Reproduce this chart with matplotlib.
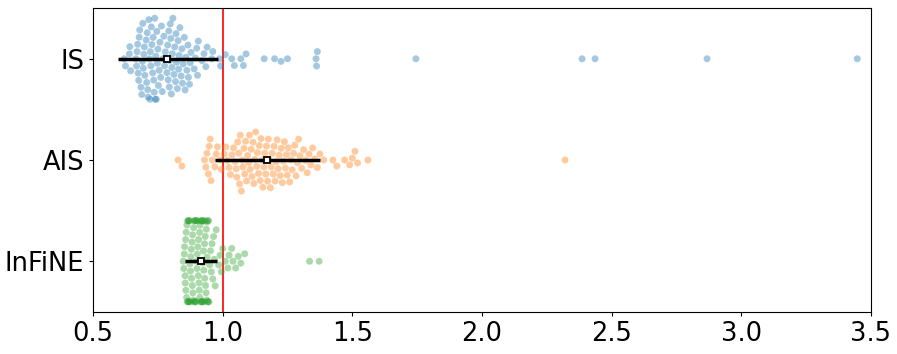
import numpy as np
import pandas as pd
import matplotlib
matplotlib.use("Agg")
import matplotlib.pyplot as plt
import seaborn as sns

# groups (top to bottom)
groups = ["IS", "AIS", "InFiNE"]

is_vals = [0.62, 0.625,
           0.64, 0.642, 0.645,
           0.665, 0.668, 0.67, 0.672, 0.674, 0.676, 0.678, 0.68,
           0.685, 0.688, 0.69, 0.692, 0.694, 0.696, 0.698, 0.70,
           0.705, 0.707, 0.709, 0.711, 0.713, 0.715, 0.717, 0.719, 0.721, 0.723, 0.725, 0.727,
           0.73, 0.732, 0.734, 0.736, 0.738, 0.74, 0.742, 0.744, 0.746, 0.748, 0.75, 0.752,
           0.755, 0.758, 0.761, 0.764, 0.767, 0.770, 0.773, 0.776, 0.779,
           0.785, 0.788, 0.79, 0.792, 0.794, 0.796, 0.798, 0.80, 0.802, 0.804, 0.806, 0.808,
           0.812, 0.815, 0.818, 0.82, 0.822, 0.825, 0.828, 0.83, 0.832, 0.835,
           0.84, 0.843, 0.845, 0.848, 0.852, 0.855, 0.858, 0.862,
           0.866, 0.868, 0.872, 0.875, 0.878,
           0.89, 0.895, 0.90, 0.903, 0.906,
           0.92, 0.928, 0.935, 0.94,
           0.958, 0.962,
           0.988, 0.992,
           1.01, 1.035, 1.045, 1.07, 1.08, 1.09, 1.16, 1.20, 1.225, 1.25,
           1.36, 1.362, 1.365,
           1.745, 2.386, 2.436, 2.868, 3.447]

ais_vals = [0.828, 0.843,
            0.93, 0.935, 0.94, 0.945, 0.948, 0.952, 0.955, 0.96,
            0.97, 0.975, 0.98, 0.99, 0.995,
            1.005, 1.012, 1.018, 1.024, 1.03, 1.036, 1.042, 1.048,
            1.052, 1.055, 1.058, 1.062, 1.065, 1.068, 1.072, 1.075, 1.078, 1.082, 1.085, 1.088, 1.092, 1.096,
            1.10, 1.103, 1.106, 1.11, 1.113, 1.117, 1.12, 1.124, 1.127, 1.131, 1.134, 1.138, 1.141, 1.145, 1.148,
            1.152, 1.155, 1.159, 1.162, 1.166, 1.169, 1.173, 1.176, 1.18, 1.184, 1.187, 1.191, 1.195, 1.198,
            1.202, 1.206, 1.21, 1.214, 1.218, 1.222, 1.226, 1.23, 1.234, 1.238, 1.242, 1.246, 1.249,
            1.253, 1.258, 1.263, 1.268, 1.273, 1.278, 1.283, 1.288, 1.293, 1.298,
            1.305, 1.312, 1.319, 1.326, 1.333, 1.34, 1.347,
            1.355, 1.365, 1.375, 1.39,
            1.425, 1.44, 1.47, 1.49, 1.50, 1.51, 1.52, 1.56, 2.32]

infine_vals = [0.848, 0.85, 0.852, 0.853, 0.855, 0.856, 0.858, 0.859, 0.861, 0.862,
               0.864, 0.865, 0.867, 0.868, 0.87, 0.871, 0.873, 0.874, 0.876, 0.877,
               0.879, 0.88, 0.882, 0.883, 0.885, 0.886, 0.888, 0.889, 0.891, 0.892,
               0.894, 0.895, 0.897, 0.898, 0.90, 0.901, 0.903, 0.904, 0.906, 0.907,
               0.909, 0.91, 0.912, 0.913, 0.915, 0.916, 0.918, 0.919, 0.921, 0.922,
               0.924, 0.925, 0.927, 0.928, 0.93, 0.931, 0.933, 0.934, 0.936, 0.937,
               0.939, 0.94, 0.942, 0.943, 0.945, 0.947, 0.950, 0.953, 0.956, 0.959,
               0.962, 0.965, 0.968, 0.971, 0.975,
               0.857, 0.866, 0.875, 0.884, 0.893, 0.902, 0.911, 0.92, 0.926, 0.932,
               0.938, 0.944,
               0.985, 0.99, 0.995, 1.0, 1.01, 1.02, 1.025, 1.035, 1.04, 1.05,
               1.06, 1.07, 1.085,
               1.335, 1.372]

# centre marker and bar extent for each group
centers = [0.785, 1.171, 0.916]
lows = [0.597, 0.970, 0.855]
highs = [0.982, 1.375, 0.978]

colors = ["tab:blue", "tab:orange", "tab:green"]

df = pd.DataFrame({
    "value": is_vals + ais_vals + infine_vals,
    "group": (["IS"] * len(is_vals) + ["AIS"] * len(ais_vals)
              + ["InFiNE"] * len(infine_vals)),
})

fig = plt.figure(figsize=(8.97, 3.54), dpi=100)
ax = fig.add_axes([0.1037, 0.119, 0.8673, 0.858])

sns.swarmplot(data=df, x="value", y="group", hue="group", order=groups,
              hue_order=groups, palette=colors, alpha=0.4, size=5,
              legend=False, ax=ax)

ax.axvline(1.0, color="red", lw=1.2, zorder=1)

ypos = np.arange(len(groups))
xerr = [np.array(centers) - np.array(lows), np.array(highs) - np.array(centers)]
ax.errorbar(centers, ypos, xerr=xerr, fmt="s", color="black", ecolor="black",
            mfc="white", mec="black", ms=5, mew=1.3, elinewidth=2.5, capsize=0,
            zorder=5)

ax.set_xlim(0.5, 3.5)
ax.set_ylim(2.5, -0.5)
ax.set_xticks([0.5, 1.0, 1.5, 2.0, 2.5, 3.0, 3.5])
ax.set_xlabel("")
ax.set_ylabel("")
ax.tick_params(labelsize=18.5, length=3)

fig.savefig("out.png", dpi=100)
